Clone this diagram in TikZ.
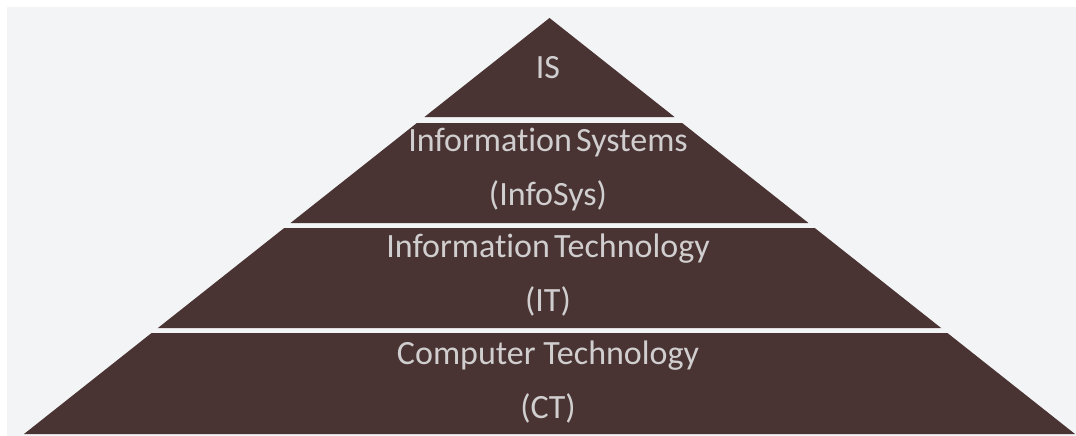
\documentclass[tikz,border=0pt]{standalone}
\usepackage{fontspec}
\setmainfont{Carlito}[Ligatures=NoCommon]
\definecolor{bgc}{RGB}{243,244,246}
\definecolor{brown}{RGB}{73,51,51}
\definecolor{txt}{RGB}{208,206,206}
\begin{document}
\begin{tikzpicture}[x=1pt,y=-1pt,
  tier/.style={fill=brown,draw=none},
  label/.style={text=txt,align=center,inner sep=0pt,font=\fontsize{34}{54}\selectfont}]
\useasboundingbox (0,0) rectangle (1076,436);
\fill[white] (0,0) rectangle (1076,436);
\fill[bgc] (7,7) rectangle (1076,436);
% pyramid: apex (549.5,18), base y=434, half-width 525.5
\def\sl{1.2632}
\fill[tier] (549.5,18) -- ({549.5-\sl*99},117) -- ({549.5+\sl*99},117) -- cycle;
\fill[tier] ({549.5-\sl*105},123) -- ({549.5+\sl*105},123) -- ({549.5+\sl*205},223) -- ({549.5-\sl*205},223) -- cycle;
\fill[tier] ({549.5-\sl*210},228) -- ({549.5+\sl*210},228) -- ({549.5+\sl*310},328) -- ({549.5-\sl*310},328) -- cycle;
\fill[tier] ({549.5-\sl*315},333) -- ({549.5+\sl*315},333) -- ({549.5+\sl*416},434) -- ({549.5-\sl*416},434) -- cycle;
\node[label] (is) at (548,68) {IS};
\node[label] (infosys) at (548,170) {Information\hspace{0.12em}Systems\\(InfoSys)};
\node[label] (it) at (548,275) {Information\hspace{0.12em}Technology\\(IT)};
\node[label] (ct) at (548,382) {Computer Technology\\(CT)};
\end{tikzpicture}
\end{document}
